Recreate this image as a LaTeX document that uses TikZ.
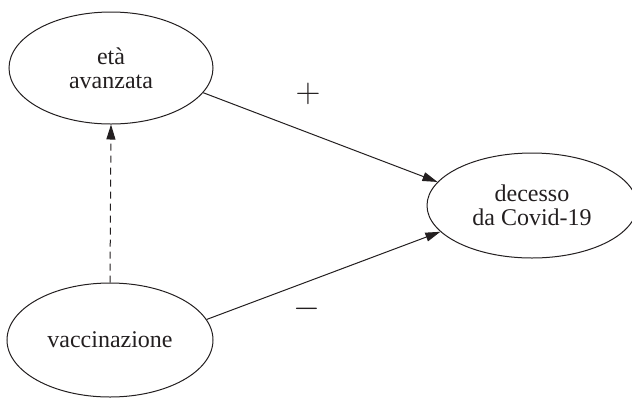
\documentclass[tikz,border=0pt]{standalone}
\usepackage{fontspec}
\setmainfont{Liberation Serif}
\usetikzlibrary{shapes.geometric,arrows.meta}
\definecolor{inkgray}{HTML}{231F20}
\begin{document}
\begin{tikzpicture}[x=0.5pt,y=-0.5pt,
    factor/.style={draw=inkgray, ellipse, line width=0.5pt, inner sep=0pt,
      align=center, text=inkgray, font=\fontsize{12}{12}\selectfont},
    effect/.style={draw=inkgray, line width=0.5pt,
      -{Triangle[length=7.5pt,width=4.5pt]}},
    sign/.style={text=inkgray, font=\fontsize{16}{16}\selectfont}]
  \useasboundingbox (0,0) rectangle (632,398);

  % the three variables
  \node[factor, minimum width=102pt, minimum height=56pt] (eta) at (111,68)
    {età\\avanzata};
  \node[factor, minimum width=103pt, minimum height=57pt] (vacc) at (110,340)
    {vaccinazione};
  \node[factor, minimum width=105pt, minimum height=52.5pt] (covid) at (532,205.5)
    {decesso\\da Covid-19};

  % causal links
  \draw[effect] (eta.-15) -- (covid.166);
  \draw[effect] (vacc.12) -- (covid.196);
  \draw[effect, dash pattern=on 3.5pt off 2.5pt] (vacc.north) -- (eta.south);

  % signs of the effects
  \node[sign] (plus) at (308,94) {$+$};
  \node[sign] (minus) at (307,309) {$-$};
\end{tikzpicture}
\end{document}
